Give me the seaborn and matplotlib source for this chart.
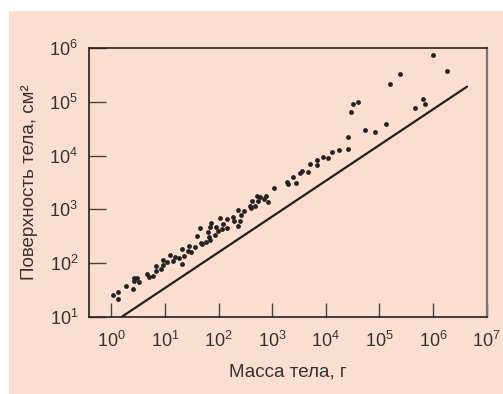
import matplotlib
matplotlib.use("Agg")
import matplotlib.pyplot as plt
import seaborn as sns
import pandas as pd
from matplotlib.patches import Rectangle
from matplotlib.ticker import FixedLocator, NullLocator, LogFormatterSciNotation

# ---- data ----
mass_g = [1.06, 1.31, 1.35, 1.88, 2.51, 2.69, 3.06, 2.65, 3.34, 4.64,
          4.99, 5.93, 6.74, 6.84, 8.36, 9.12, 9.38, 11.0, 12.7, 14.2,
          15.1, 18.4, 20.9, 20.9, 23.1, 26.4, 28.7, 30.4, 36.6, 40.5,
          45.4, 47.4, 50.2, 58.7, 64.1, 67.0, 69.8, 72.9, 69.8, 84.1,
          90.4, 98.6, 107, 114, 119, 143, 143, 183, 196, 226,
          233, 247, 261, 293, 379, 402, 420, 484, 521, 543,
          583, 693, 767, 847, 1067, 1892, 1950, 2415, 2831, 3266,
          3614, 4613, 5023, 6887, 6887, 8913, 10890, 12940, 17260, 26120,
          26120, 28910, 31990, 39630, 53580, 81280, 130300, 154900, 238200, 467700,
          650100, 698200, 986300, 1854000]
area_cm2 = [25.4, 29.2, 21.3, 37.2, 33.3, 51.8, 53.3, 46.2, 43.6, 61.5,
            54.1, 58.1, 71.0, 86.7, 78.4, 112, 91.8, 103, 143, 109,
            131, 124, 185, 94.4, 135, 170, 207, 163, 196, 318,
            455, 239, 223, 243, 384, 301, 462, 565, 269, 333,
            475, 394, 679, 424, 533, 652, 443, 710, 615, 497,
            973, 597, 783, 918, 1170, 1074, 1429, 1170, 1799, 1409,
            1675, 1560, 1799, 1390, 2535, 3228, 2924, 4064, 3141, 4688,
            5248, 5035, 6902, 8185, 6792, 9441, 8913, 11530, 12560, 13490,
            22280, 66070, 93110, 101400, 29650, 27990, 38370, 213300, 337300, 77270,
            112200, 90570, 751600, 378400]
line_mass_g = [1.58, 4.3e6]
line_area_cm2 = [10, 1.93e5]
x_ticks = [1e0, 1e1, 1e2, 1e3, 1e4, 1e5, 1e6, 1e7]
y_ticks = [1e1, 1e2, 1e3, 1e4, 1e5, 1e6]
x_label = "Масса тела, г"
y_label = "Поверхность тела, см²"

BG = "#FCDED0"
INK = "#222222"
TXT = "#333333"

sns.set_theme(style="ticks")
plt.rcParams["font.family"] = ["Liberation Sans", "DejaVu Sans"]
plt.rcParams["mathtext.fontset"] = "custom"
plt.rcParams["mathtext.rm"] = "Liberation Sans"
plt.rcParams["mathtext.it"] = "Liberation Sans:italic"
plt.rcParams["mathtext.bf"] = "Liberation Sans:bold"

fig = plt.figure(figsize=(5.03, 3.94), dpi=100, facecolor="white")
fig.add_artist(Rectangle((9 / 503, 0), 1 - 9 / 503, 1 - 11 / 394,
                         transform=fig.transFigure, facecolor=BG,
                         edgecolor="none", zorder=-10))
ax = fig.add_axes([89.3 / 503, 1 - 316.7 / 394, 397.4 / 503, 268.4 / 394])
ax.set_facecolor(BG)

pts = pd.DataFrame({"mass": mass_g, "area": area_cm2})
line = pd.DataFrame({"mass": line_mass_g, "area": line_area_cm2})

sns.lineplot(data=line, x="mass", y="area", ax=ax, color=INK, linewidth=1.6,
             estimator=None, sort=False)
sns.scatterplot(data=pts, x="mass", y="area", ax=ax, color=INK, s=12,
                linewidth=0, zorder=3)

ax.set_xscale("log")
ax.set_yscale("log")
ax.set_xlim(10 ** -0.41, 1e7)
ax.set_ylim(1e1, 1e6)
ax.xaxis.set_major_locator(FixedLocator(x_ticks))
ax.yaxis.set_major_locator(FixedLocator(y_ticks))
ax.xaxis.set_major_formatter(LogFormatterSciNotation())
ax.yaxis.set_major_formatter(LogFormatterSciNotation())
ax.xaxis.set_minor_locator(NullLocator())
ax.yaxis.set_minor_locator(NullLocator())

ax.tick_params(axis="both", which="major", direction="in", width=1,
               color="#444444", labelsize=13, labelcolor=TXT)
ax.tick_params(axis="x", length=10, pad=10)
ax.tick_params(axis="y", length=12, pad=8)

for side in ["left", "bottom", "top"]:
    ax.spines[side].set_color(INK)
    ax.spines[side].set_linewidth(1.2)
ax.spines["right"].set_color("#777777")
ax.spines["right"].set_linewidth(1.6)

ax.set_xlabel(x_label, fontsize=13.5, color=TXT, labelpad=9)
ax.set_ylabel(y_label, fontsize=13.5, color=TXT, labelpad=8)

fig.savefig("out.png", dpi=100, facecolor="white")
